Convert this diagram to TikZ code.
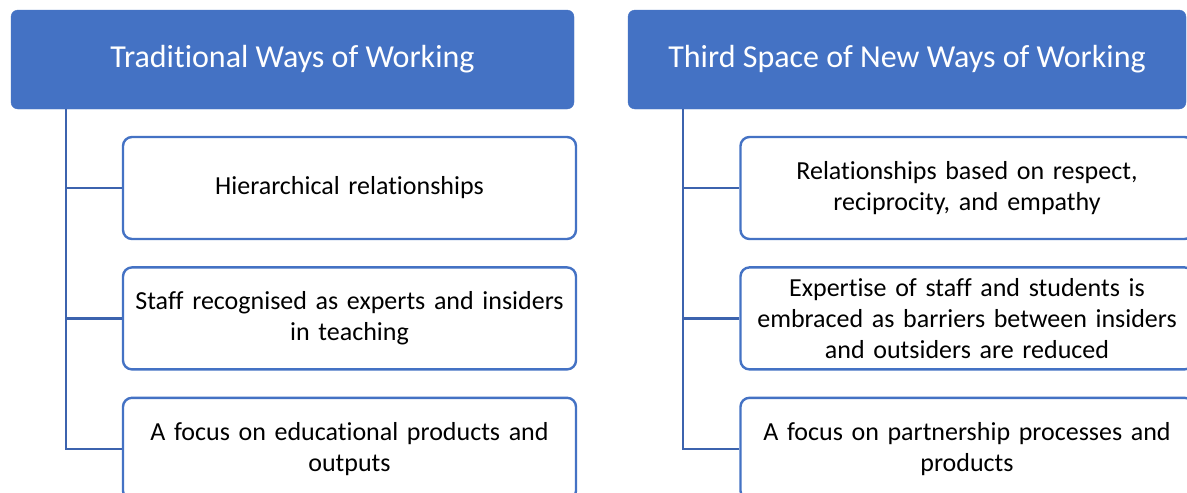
\documentclass[tikz,border=0pt]{standalone}
\usepackage{fontspec}
\setmainfont{Carlito}[Ligatures=NoCommon]
\usetikzlibrary{positioning}
\definecolor{accent}{HTML}{4472C4}
\definecolor{stem}{HTML}{3C63AE}

\begin{document}
\begin{tikzpicture}[x=1pt, y=-1pt, node distance=26pt,
        head/.style = {draw=accent, fill=accent, rounded corners=7pt, text=white, minimum height=99pt, inner sep=0pt, font=\fontsize{32}{38}\selectfont},
        item/.style = {draw=accent, fill=white, line width=2.4pt, rounded corners=9pt, minimum width=453pt, minimum height=102pt, text width=445pt, align=center, font=\fontsize{26}{31}\selectfont},
        link/.style = {draw=stem, line width=2.5pt}]
        \useasboundingbox[fill=white] (0,0) rectangle (1187,493);
        % left column
        \node[head, minimum width=563pt] (trad) at (292.5,59.5) {Traditional Ways of Working};
        \node[item] (t1) at (349.5,188) {Hierarchical relationships};
        \node[item] (t2) [below=of t1] {Staff recognised as experts and insiders\\in teaching};
        \node[item] (t3) [below=of t2] {A focus on educational products and\\outputs};
        % right column
        \node[head, minimum width=558pt] (third) at (907,59.5) {Third Space of New Ways of Working};
        \node[item] (n1) at (967,188) {Relationships based on respect,\\reciprocity, and empathy};
        \node[item] (n2) [below=of n1] {Expertise of staff and students is\\embraced as barriers between insiders\\and outsiders are reduced};
        \node[item] (n3) [below=of n2] {A focus on partnership processes and\\products};
        \coordinate (tstem) at ([xshift=55pt]trad.south west);
        \coordinate (nstem) at ([xshift=55pt]third.south west);
        \draw[link] (tstem) |- (t1.west);
        \draw[link] (tstem) |- (t2.west);
        \draw[link] (tstem) |- (t3.west);
        \draw[link] (nstem) |- (n1.west);
        \draw[link] (nstem) |- (n2.west);
        \draw[link] (nstem) |- (n3.west);
    \end{tikzpicture}
\end{document}
